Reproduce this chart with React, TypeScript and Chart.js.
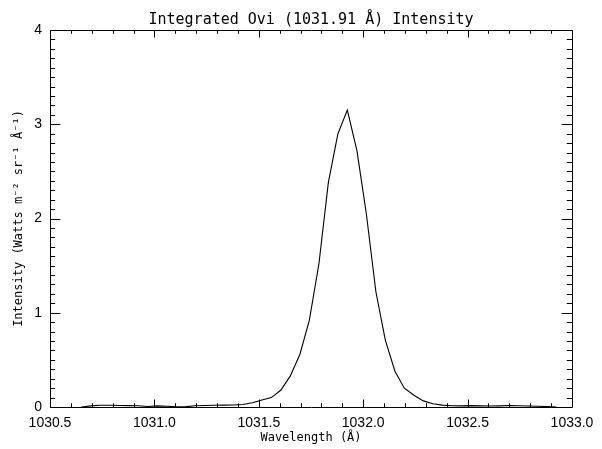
import React, { useEffect, useRef } from "react";
import { Chart, registerables } from "chart.js";

Chart.register(...registerables);

const titleText = "Integrated Ovi (1031.91 Å) Intensity";
const xTitle = "Wavelength (Å)";
const yTitle = "Intensity (Watts m⁻² sr⁻¹ Å⁻¹)";

const wavelengths = [
  1030.650, 1030.696, 1030.741, 1030.787, 1030.832, 1030.878, 1030.923, 1030.969,
  1031.014, 1031.060, 1031.105, 1031.151, 1031.196, 1031.242, 1031.287, 1031.333,
  1031.378, 1031.424, 1031.469, 1031.515, 1031.560, 1031.606, 1031.651, 1031.697,
  1031.742, 1031.788, 1031.833, 1031.879, 1031.924, 1031.970, 1032.015, 1032.061,
  1032.106, 1032.152, 1032.197, 1032.243, 1032.288, 1032.334, 1032.379, 1032.425,
  1032.470, 1032.516, 1032.561, 1032.607, 1032.652, 1032.698, 1032.743, 1032.789,
  1032.834, 1032.880, 1032.925,
];

const intensity = [
  0.000, 0.012, 0.018, 0.018, 0.016, 0.015, 0.014, 0.006,
  0.012, 0.008, 0.003, 0.004, 0.014, 0.016, 0.018, 0.020,
  0.022, 0.026, 0.045, 0.075, 0.100, 0.180, 0.330, 0.560,
  0.920, 1.520, 2.380, 2.900, 3.150, 2.720, 2.050, 1.220,
  0.710, 0.380, 0.200, 0.125, 0.065, 0.035, 0.020, 0.014,
  0.012, 0.015, 0.012, 0.010, 0.012, 0.016, 0.013, 0.010,
  0.008, 0.005, 0.000,
];

const xMin = 1030.5;
const xMax = 1033.0;
const xMajorStep = 0.5;
const xMinorPerMajor = 5;
const yMin = 0;
const yMax = 4;
const yMajorStep = 1;
const yMinorPerMajor = 10;

const boxPlugin = {
  id: "idlBox",
  afterDraw(chart: any) {
    const { ctx, chartArea, scales } = chart;
    const { left, right, top, bottom } = chartArea;
    const xs = scales.x;
    const ys = scales.y;
    const xMajorLen = 7.5;
    const yMajorLen = 10.4;
    ctx.save();
    ctx.strokeStyle = "#000";
    ctx.lineWidth = 1;
    ctx.beginPath();
    ctx.rect(Math.round(left) + 0.5, Math.round(top) + 0.5, Math.round(right - left), Math.round(bottom - top));
    ctx.stroke();
    ctx.beginPath();
    const nx = Math.round(((xMax - xMin) / xMajorStep) * xMinorPerMajor);
    for (let i = 0; i <= nx; i++) {
      const v = xMin + (i * xMajorStep) / xMinorPerMajor;
      const px = Math.round(xs.getPixelForValue(v)) + 0.5;
      const len = i % xMinorPerMajor === 0 ? xMajorLen : xMajorLen / 2;
      ctx.moveTo(px, bottom);
      ctx.lineTo(px, bottom - len);
      ctx.moveTo(px, top);
      ctx.lineTo(px, top + len);
    }
    const ny = Math.round(((yMax - yMin) / yMajorStep) * yMinorPerMajor);
    for (let i = 0; i <= ny; i++) {
      const v = yMin + (i * yMajorStep) / yMinorPerMajor;
      const py = Math.round(ys.getPixelForValue(v)) + 0.5;
      const len = i % yMinorPerMajor === 0 ? yMajorLen : yMajorLen / 2;
      ctx.moveTo(left, py);
      ctx.lineTo(left + len, py);
      ctx.moveTo(right, py);
      ctx.lineTo(right - len, py);
    }
    ctx.stroke();
    ctx.restore();
  },
};

export default function App() {
  const canvasRef = useRef<HTMLCanvasElement | null>(null);

  useEffect(() => {
    document.body.style.margin = "0";
    const canvas = canvasRef.current;
    if (!canvas) return;
    const chart = new Chart(canvas, {
      type: "line",
      data: {
        datasets: [
          {
            data: wavelengths.map((w, i) => ({ x: w, y: intensity[i] })),
            borderColor: "#000",
            borderWidth: 1.1,
            pointRadius: 0,
            tension: 0,
            fill: false,
          },
        ],
      },
      options: {
        responsive: false,
        animation: false,
        devicePixelRatio: 1,
        layout: { padding: { left: 0, right: 30, top: 0, bottom: 0 } },
        plugins: {
          legend: { display: false },
          tooltip: { enabled: false },
          title: {
            display: true,
            fullSize: false,
            text: titleText,
            color: "#000",
            font: { family: "'DejaVu Sans Mono', monospace", size: 15, weight: "normal", lineHeight: 1.2 },
            padding: { top: 11, bottom: 1 },
          },
        },
        scales: {
          x: {
            type: "linear",
            min: xMin,
            max: xMax,
            grid: { display: false, drawTicks: false },
            border: { display: false },
            ticks: {
              stepSize: xMajorStep,
              autoSkip: false,
              maxRotation: 0,
              color: "#000",
              padding: 8,
              font: { family: "'Liberation Sans', Arial, sans-serif", size: 14 },
              callback: (v: any) => Number(v).toFixed(1),
            },
            title: {
              display: true,
              text: xTitle,
              color: "#000",
              font: { family: "'DejaVu Sans Mono', monospace", size: 12, lineHeight: 1.2 },
              padding: { top: 0, bottom: 4 },
            },
            afterFit: (scale: any) => {
              scale.height = 42;
            },
          },
          y: {
            type: "linear",
            min: yMin,
            max: yMax,
            grid: { display: false, drawTicks: false },
            border: { display: false },
            ticks: {
              stepSize: yMajorStep,
              color: "#000",
              padding: 8,
              font: { family: "'Liberation Sans', Arial, sans-serif", size: 14 },
              callback: (v: any) => String(v),
            },
            title: {
              display: true,
              text: yTitle,
              color: "#000",
              font: { family: "'DejaVu Sans Mono', monospace", size: 12, lineHeight: 1.2 },
              padding: { top: 12, bottom: 0 },
            },
            afterFit: (scale: any) => {
              scale.width = 50;
            },
          },
        },
      },
      plugins: [boxPlugin],
    });
    return () => chart.destroy();
  }, []);

  return (
    <div style={{ width: 602, height: 449 }}>
      <canvas ref={canvasRef} width={602} height={449} style={{ display: "block", width: 602, height: 449 }} />
    </div>
  );
}
